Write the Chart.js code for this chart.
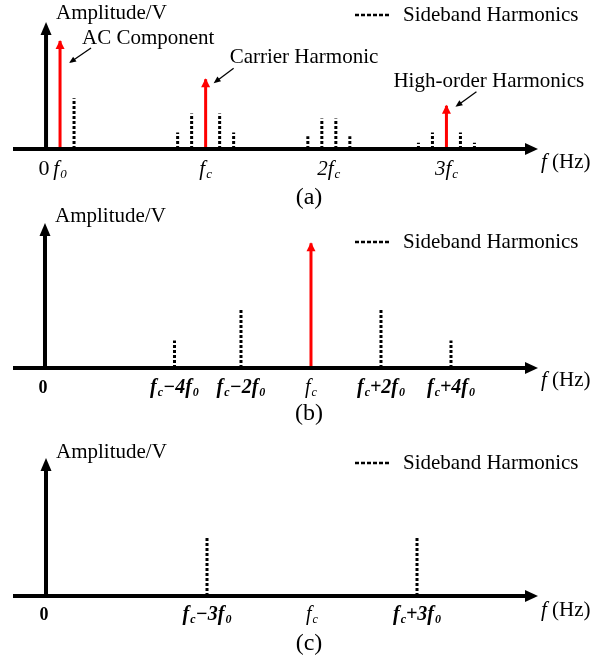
<!DOCTYPE html>
<html>
<head>
<meta charset="utf-8">
<script src="https://cdn.jsdelivr.net/npm/chart.js@4.4.1/dist/chart.umd.min.js"></script>
<style>
  html, body { margin: 0; padding: 0; background: #fff; }
  #wrap { position: relative; width: 606px; height: 662px; }
  #wrap canvas { position: absolute; left: 0; top: 0; }
</style>
</head>
<body>
<div id="wrap">
  <canvas id="chart-a" width="606" height="662"></canvas>
  <canvas id="chart-b" width="606" height="662"></canvas>
  <canvas id="chart-c" width="606" height="662"></canvas>
</div>
<script>
// === Spectrum sketches (a) (b) (c) — x in multiples of f0, amplitude 0..1 ===

// --- (a) full spectrum ---
const aRedX = [1, 11.4, 28.6];
const aRedAmp = [0.85, 0.55, 0.34];
const aSideX = [2, 9.4, 10.4, 12.4, 13.4, 18.7, 19.7, 20.7, 21.7, 26.6, 27.6, 29.6, 30.6];
const aSideAmp = [0.40, 0.13, 0.28, 0.28, 0.13, 0.10, 0.24, 0.24, 0.10, 0.05, 0.13, 0.13, 0.05];
const aTickX = [0, 1, 11.4, 20.2, 28.6];
const aTickLabels = ["0", "f_0", "f_c", "2f_c", "3f_c"];
const aNotes = ["AC Component", "Carrier Harmonic", "High-order Harmonics"];

// --- (b) sidebands around fc ---
const bRedX = [7.6];
const bRedAmp = [0.86];
const bSideX = [3.7, 5.6, 9.6, 11.6];
const bSideAmp = [0.19, 0.41, 0.41, 0.19];
const bTickX = [0, 3.7, 5.6, 7.6, 9.6, 11.6];
const bTickLabels = ["0", "f_c\u22124f_0", "f_c\u22122f_0", "f_c", "f_c+2f_0", "f_c+4f_0"];

// --- (c) odd sidebands only ---
const cRedX = [];
const cRedAmp = [];
const cSideX = [4.6, 10.6];
const cSideAmp = [0.43, 0.43];
const cTickX = [0, 4.6, 7.6, 10.6];
const cTickLabels = ["0", "f_c\u22123f_0", "f_c", "f_c+3f_0"];

const FONT = "'Liberation Serif', 'Times New Roman', serif";
const RED = "#ff0000";

const panels = [
  {
    id: "chart-a", caption: "(a)",
    redX: aRedX, redAmp: aRedAmp, sideX: aSideX, sideAmp: aSideAmp,
    tickX: aTickX, tickLabels: aTickLabels, notes: aNotes,
    tickStyle: ["r", "i", "i", "i", "i"], tickSize: 21, zeroSize: 22, tickGap: 26,
    xMin: -2.36, xMax: 35.14,
    pad: { left: 13, right: 68, top: 22, bottom: 513 },
    ampDy: -3, legDy: -7, hzDy: 19, capDy: 55,
    noteLayout: [
      { tx: 22, ty: 3, from: [31, 7], to: [9, 22] },
      { tx: 24, ty: -16, from: [28, -11], to: [8, 4] },
      { tx: -53, ty: -19, from: [30, -14], to: [9, 1] }
    ]
  },
  {
    id: "chart-b", caption: "(b)",
    redX: bRedX, redAmp: bRedAmp, sideX: bSideX, sideAmp: bSideAmp,
    tickX: bTickX, tickLabels: bTickLabels, notes: [],
    tickStyle: ["b", "bi", "bi", "i", "bi", "bi"], tickSize: 20, zeroSize: 18, tickGap: 25,
    xMin: -0.914, xMax: 14.086,
    pad: { left: 13, right: 68, top: 223, bottom: 294 },
    ampDy: -1, legDy: 19, hzDy: 18, capDy: 52, noteLayout: []
  },
  {
    id: "chart-c", caption: "(c)",
    redX: cRedX, redAmp: cRedAmp, sideX: cSideX, sideAmp: cSideAmp,
    tickX: cTickX, tickLabels: cTickLabels, notes: [],
    tickStyle: ["b", "bi", "i", "bi"], tickSize: 20, zeroSize: 18, tickGap: 24,
    xMin: -0.943, xMax: 14.057,
    pad: { left: 13, right: 68, top: 458, bottom: 66 },
    ampDy: 0, legDy: 5, hzDy: 20, capDy: 54, noteLayout: []
  }
];

// ============================================================
//  helpers
// ============================================================
function makeStems(xs, amps) {
  const pts = [];
  xs.forEach((x, i) => {
    pts.push({ x: x, y: 0 }, { x: x, y: amps[i] }, { x: x, y: null });
  });
  return pts;
}

function tri(ctx, a, b, c, color) {
  ctx.fillStyle = color;
  ctx.beginPath();
  ctx.moveTo(a[0], a[1]);
  ctx.lineTo(b[0], b[1]);
  ctx.lineTo(c[0], c[1]);
  ctx.closePath();
  ctx.fill();
}

// text with "_x" subscripts, centred on cx
function drawLabel(ctx, str, cx, base, size, style) {
  const runs = [];
  for (let i = 0; i < str.length; i++) {
    if (str[i] === "_") { runs.push({ t: str[i + 1], sub: true }); i++; }
    else runs.push({ t: str[i], sub: false });
  }
  const subSize = Math.round(size * 0.6);
  const it = style.indexOf("i") >= 0 ? "italic " : "";
  const wt = style.indexOf("b") >= 0 ? "bold " : "";
  const fontFor = (r) => it + wt + (r.sub ? subSize : size) + "px " + FONT;
  let total = 0;
  runs.forEach((r) => {
    ctx.font = fontFor(r);
    r.w = ctx.measureText(r.t).width + (r.t === "f" && it ? 1 : 0);
    total += r.w;
  });
  let xx = cx - total / 2;
  ctx.textAlign = "left";
  ctx.textBaseline = "alphabetic";
  runs.forEach((r) => {
    ctx.font = fontFor(r);
    ctx.fillText(r.t, xx, base + (r.sub ? Math.round(size * 0.15) : 0));
    xx += r.w;
  });
}

function spectrumPlugin(p) {
  return {
    id: "spectrum-" + p.id,
    afterDatasetsDraw(chart) {
      const { ctx, chartArea: ca, scales } = chart;
      const sx = scales.x, sy = scales.y;
      const y0 = sy.getPixelForValue(0);
      const x0 = sx.getPixelForValue(0);
      ctx.save();

      // red arrow heads
      p.redX.forEach((v, i) => {
        const px = sx.getPixelForValue(v);
        const py = sy.getPixelForValue(p.redAmp[i]) - 1;
        tri(ctx, [px, py], [px - 4.5, py + 9], [px + 4.5, py + 9], RED);
      });

      // axes
      ctx.strokeStyle = "#000";
      ctx.lineWidth = 4;
      ctx.beginPath();
      ctx.moveTo(ca.left, y0);
      ctx.lineTo(ca.right - 10, y0);
      ctx.moveTo(x0, y0);
      ctx.lineTo(x0, ca.top + 10);
      ctx.stroke();
      tri(ctx, [ca.right, y0], [ca.right - 13, y0 - 6], [ca.right - 13, y0 + 6], "#000");
      tri(ctx, [x0, ca.top], [x0 - 5.5, ca.top + 13], [x0 + 5.5, ca.top + 13], "#000");

      // tick labels
      ctx.fillStyle = "#000";
      p.tickX.forEach((v, i) => {
        const lbl = p.tickLabels[i];
        const st = p.tickStyle[i];
        const size = lbl === "0" ? p.zeroSize : p.tickSize;
        const cx = sx.getPixelForValue(v) - (lbl === "0" ? 2 : 0);
        drawLabel(ctx, lbl, cx, y0 + p.tickGap, size, st);
      });

      // f (Hz)
      ctx.textAlign = "left";
      ctx.font = "italic 21px " + FONT;
      ctx.fillText("f", ca.right + 3, y0 + p.hzDy);
      const fw = ctx.measureText("f").width;
      ctx.font = "21px " + FONT;
      ctx.fillText(" (Hz)", ca.right + 3 + fw, y0 + p.hzDy);

      // y axis title
      ctx.fillText("Amplitude/V", x0 + 10, ca.top + p.ampDy);

      // legend
      ctx.lineWidth = 2.5;
      ctx.setLineDash([4, 2]);
      ctx.beginPath();
      ctx.moveTo(ca.right - 183, ca.top + p.legDy);
      ctx.lineTo(ca.right - 148, ca.top + p.legDy);
      ctx.stroke();
      ctx.setLineDash([]);
      ctx.fillText("Sideband Harmonics", ca.right - 135, ca.top + p.legDy + 6);

      // callouts
      p.notes.forEach((txt, i) => {
        const L = p.noteLayout[i];
        const px = sx.getPixelForValue(p.redX[i]);
        const py = sy.getPixelForValue(p.redAmp[i]);
        ctx.fillText(txt, px + L.tx, py + L.ty);
        const ax = px + L.from[0], ay = py + L.from[1];
        const bx = px + L.to[0], by = py + L.to[1];
        const ang = Math.atan2(by - ay, bx - ax);
        ctx.lineWidth = 1.3;
        ctx.beginPath();
        ctx.moveTo(ax, ay);
        ctx.lineTo(bx - 5 * Math.cos(ang), by - 5 * Math.sin(ang));
        ctx.stroke();
        const s = 7, w = 3;
        tri(ctx, [bx, by],
          [bx - s * Math.cos(ang) + w * Math.sin(ang), by - s * Math.sin(ang) - w * Math.cos(ang)],
          [bx - s * Math.cos(ang) - w * Math.sin(ang), by - s * Math.sin(ang) + w * Math.cos(ang)], "#000");
      });

      // caption
      ctx.fillStyle = "#000";
      ctx.font = "24px " + FONT;
      ctx.textAlign = "center";
      ctx.fillText(p.caption, 309, y0 + p.capDy);

      ctx.restore();
    }
  };
}

// ============================================================
//  build the three charts
// ============================================================
panels.forEach((p) => {
  new Chart(document.getElementById(p.id), {
    type: "scatter",
    data: {
      datasets: [
        {
          data: makeStems(p.sideX, p.sideAmp),
          showLine: true, spanGaps: false,
          borderColor: "#000", borderWidth: 3, borderDash: [3, 2],
          pointRadius: 0
        },
        {
          data: makeStems(p.redX, p.redAmp),
          showLine: true, spanGaps: false,
          borderColor: RED, borderWidth: 3,
          pointRadius: 0
        }
      ]
    },
    options: {
      responsive: false,
      animation: false,
      events: [],
      layout: { padding: p.pad },
      plugins: { legend: { display: false }, tooltip: { enabled: false } },
      scales: {
        x: { type: "linear", display: false, min: p.xMin, max: p.xMax },
        y: { type: "linear", display: false, min: 0, max: 1 }
      }
    },
    plugins: [spectrumPlugin(p)]
  });
});
</script>
</body>
</html>
